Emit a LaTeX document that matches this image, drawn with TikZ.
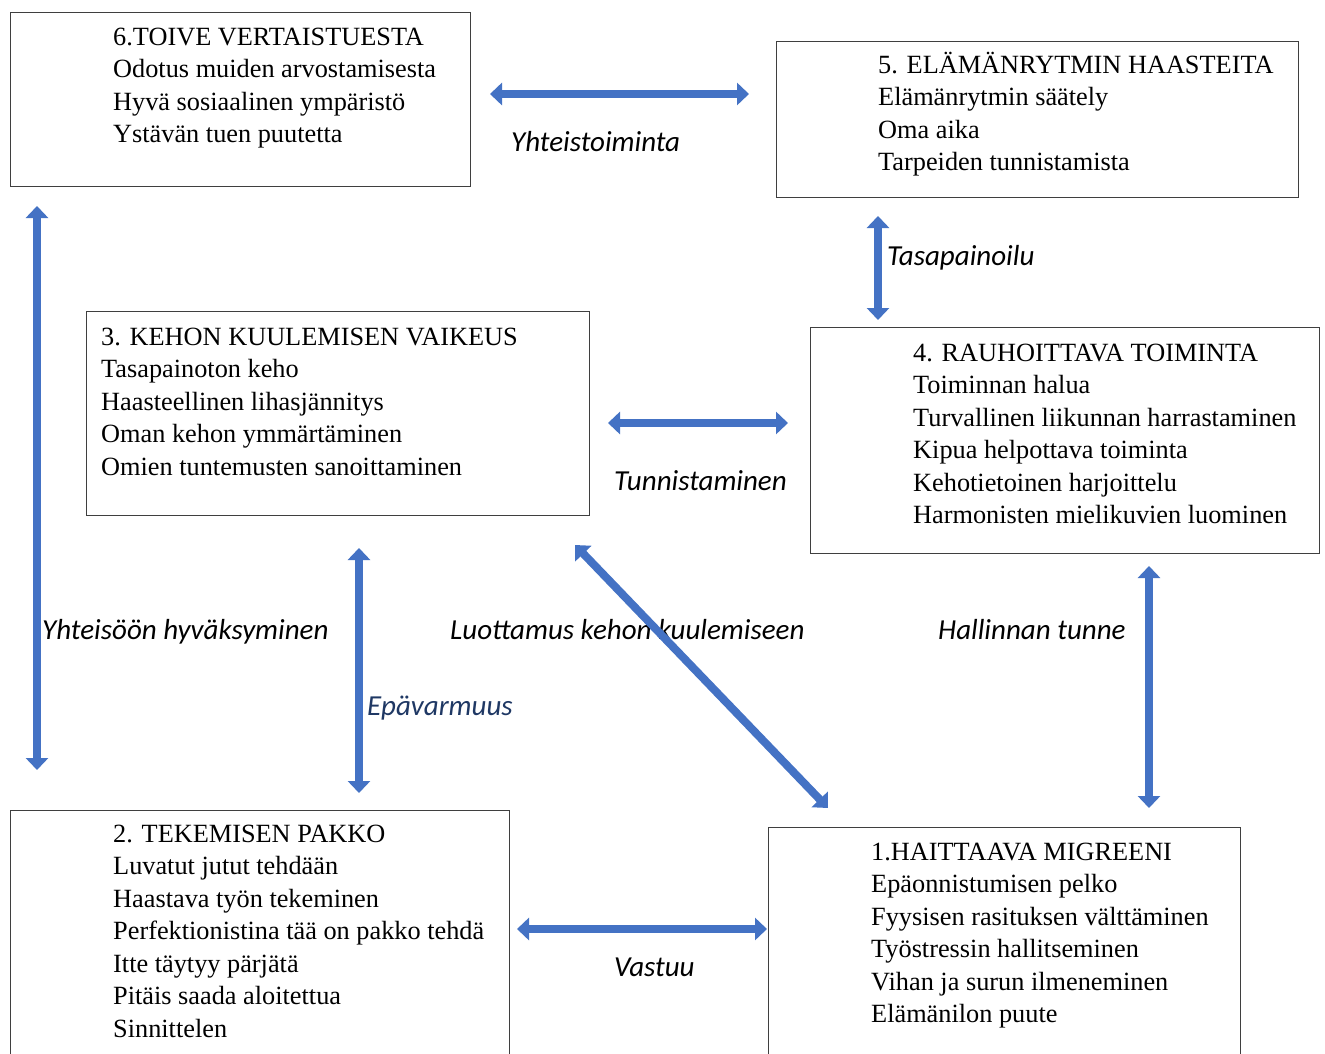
\documentclass[tikz,border=0pt]{standalone}
\usepackage{fontspec}
\setmainfont{Liberation Serif}
\newfontfamily\labfont{Carlito}
\usetikzlibrary{arrows.meta}
\definecolor{arrowblue}{HTML}{4472C4}
\definecolor{darkblue}{HTML}{1F3864}
\definecolor{boxline}{HTML}{3F3F3F}
\newcommand{\firststrut}{\rule{0pt}{24pt}}
\tikzset{
  box/.style={draw=boxline, line width=1.2pt, fill=none, inner sep=0pt, anchor=north west},
  boxtext/.style={anchor=north west, inner sep=0pt, align=left,
    font=\fontsize{26.3}{32.5}\selectfont},
  lab/.style={anchor=base west, inner sep=0pt, font=\labfont\itshape\fontsize{29}{33}\selectfont},
  bigarrow/.style={draw=arrowblue, line width=8pt,
    {Triangle[width=22pt,length=12pt]}-{Triangle[width=22pt,length=12pt]}}
}
\begin{document}
\begin{tikzpicture}[x=1pt,y=-1pt]
\useasboundingbox[fill=white] (0,0) rectangle (1325,1054);
\clip (0,0) rectangle (1325,1054);

% boxes
\node[box, minimum width=460pt, minimum height=174pt] (b6) at (10,12) {};
\node[box, minimum width=522pt, minimum height=156pt] (b5) at (776,41) {};
\node[box, minimum width=503pt, minimum height=204pt] (b3) at (86,311) {};
\node[box, minimum width=509pt, minimum height=226pt] (b4) at (810,327) {};
\node[box, minimum width=499pt, minimum height=270pt] (b2) at (10,810) {};
\node[box, minimum width=472pt, minimum height=260pt] (b1) at (768,827) {};

% box texts (first baseline = y + 24)
\node[boxtext] (t6) at (113,21) {\firststrut 6.TOIVE VERTAISTUESTA\\Odotus muiden arvostamisesta\\Hyvä sosiaalinen ympäristö\\Ystävän tuen puutetta};
\node[boxtext] (t5) at (878,49) {\firststrut 5. ELÄMÄNRYTMIN HAASTEITA\\Elämänrytmin säätely\\Oma aika\\Tarpeiden tunnistamista};
\node[boxtext] (t3) at (101,321) {\firststrut 3. KEHON KUULEMISEN VAIKEUS\\Tasapainoton keho\\Haasteellinen lihasjännitys\\Oman kehon ymmärtäminen\\Omien tuntemusten sanoittaminen};
\node[boxtext] (t4) at (913,337) {\firststrut 4. RAUHOITTAVA TOIMINTA\\Toiminnan halua\\Turvallinen liikunnan harrastaminen\\Kipua helpottava toiminta\\Kehotietoinen harjoittelu\\Harmonisten mielikuvien luominen};
\node[boxtext] (t2) at (113,818) {\firststrut 2. TEKEMISEN PAKKO\\Luvatut jutut tehdään\\Haastava työn tekeminen\\Perfektionistina tää on pakko tehdä\\Itte täytyy pärjätä\\Pitäis saada aloitettua\\Sinnittelen};
\node[boxtext] (t1) at (871,836) {\firststrut 1.HAITTAAVA MIGREENI\\Epäonnistumisen pelko\\Fyysisen rasituksen välttäminen\\Työstressin hallitseminen\\Vihan ja surun ilmeneminen\\Elämänilon puute};

% labels
\node[lab] (l1) at (511,151) {Yhteistoiminta};
\node[lab] (l2) at (887,265) {Tasapainoilu};
\node[lab] (l3) at (614,490) {Tunnistaminen};
\node[lab] (l4) at (42,639) {Yhteisöön hyväksyminen};
\node[lab] (l5) at (450,639) {Luottamus kehon kuulemiseen};
\node[lab] (l6) at (938,639) {Hallinnan tunne};
\node[lab, text=darkblue] (l7) at (367,715) {Epävarmuus};
\node[lab] (l8) at (614,976) {Vastuu};

% arrow end points
\coordinate (a1s) at (490,94);   \coordinate (a1e) at (749,94);
\coordinate (a2s) at (878,216);  \coordinate (a2e) at (878,320);
\coordinate (a3s) at (608,423);  \coordinate (a3e) at (788,423);
\coordinate (a4s) at (37,206);   \coordinate (a4e) at (37,770);
\coordinate (a5s) at (359,548);  \coordinate (a5e) at (359,793);
\coordinate (a6s) at (575,545);  \coordinate (a6e) at (828,808);
\coordinate (a7s) at (1149,566); \coordinate (a7e) at (1149,808);
\coordinate (a8s) at (517,929);  \coordinate (a8e) at (767,929);

\draw[bigarrow] (a1s) -- (a1e);
\draw[bigarrow] (a2s) -- (a2e);
\draw[bigarrow] (a3s) -- (a3e);
\draw[bigarrow] (a4s) -- (a4e);
\draw[bigarrow] (a5s) -- (a5e);
\draw[bigarrow] (a6s) -- (a6e);
\draw[bigarrow] (a7s) -- (a7e);
\draw[bigarrow] (a8s) -- (a8e);
\end{tikzpicture}
\end{document}
